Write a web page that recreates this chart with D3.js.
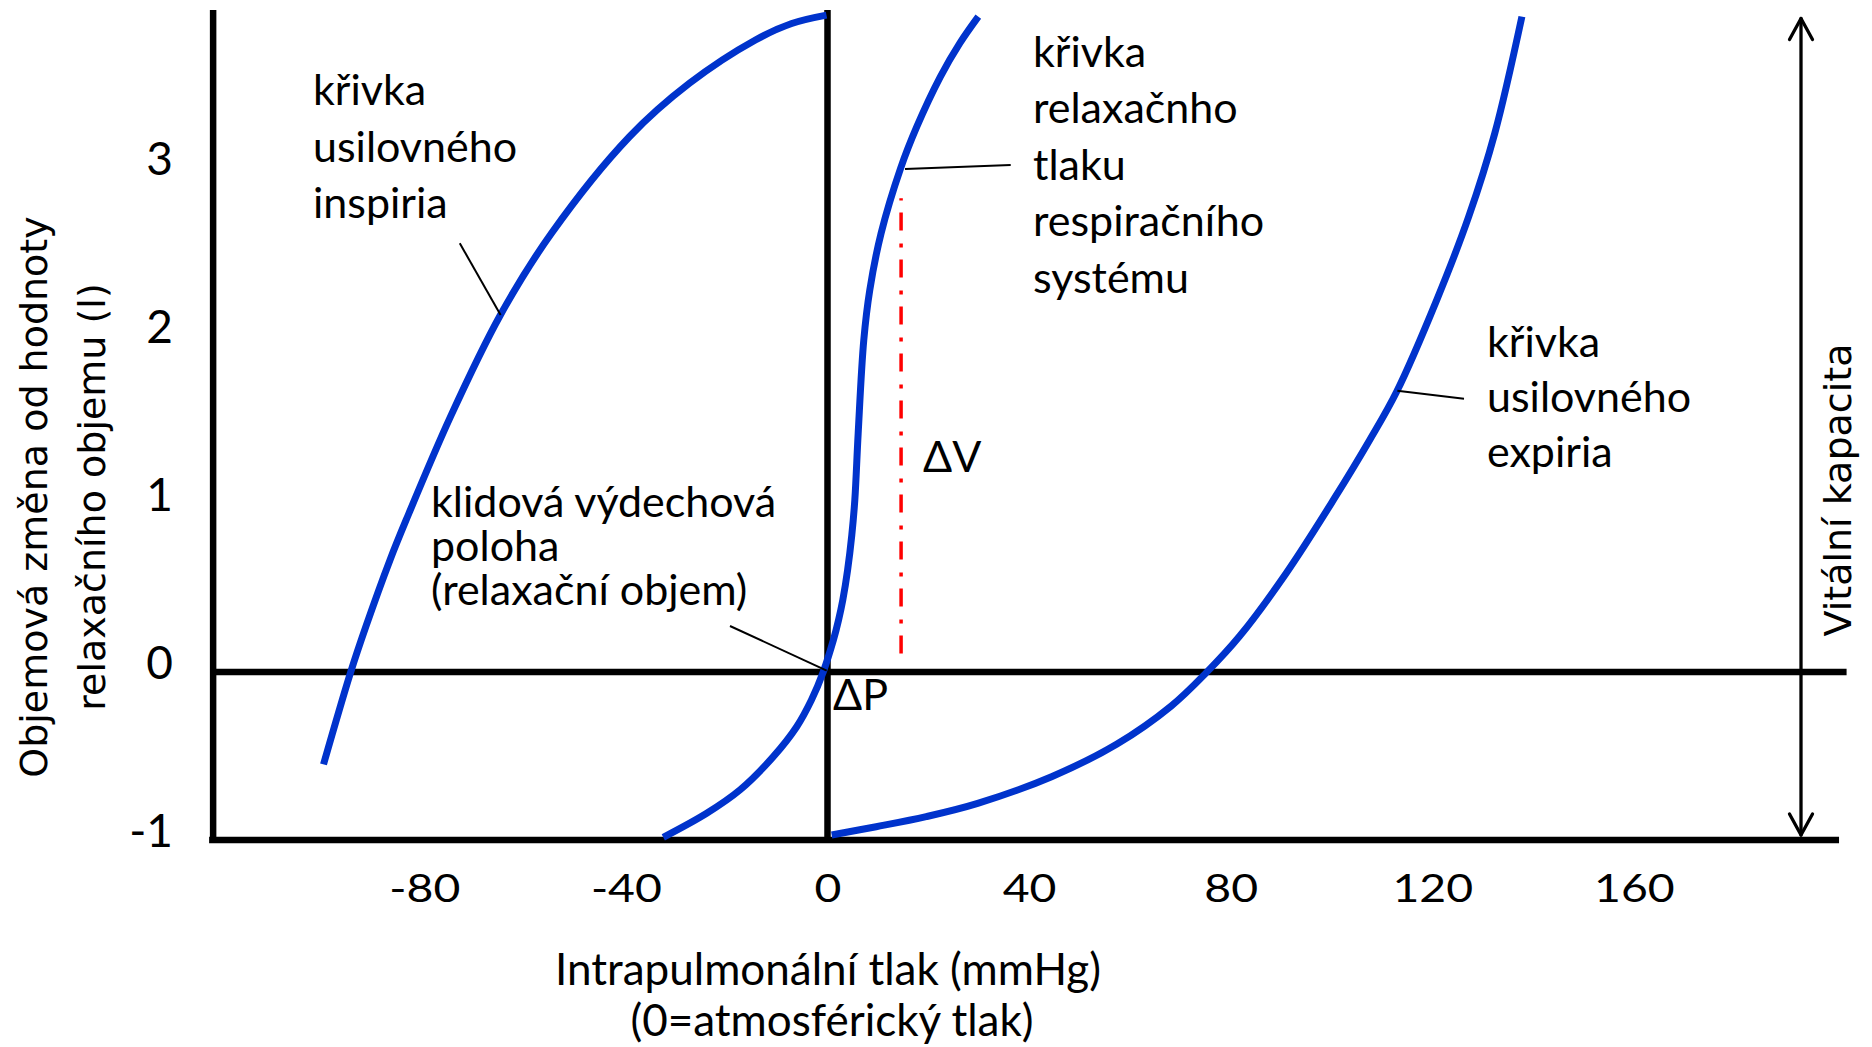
<!DOCTYPE html>
<html><head><meta charset="utf-8">
<script src="https://cdn.jsdelivr.net/npm/d3@7"></script>
<style>html,body{margin:0;padding:0;background:#fff;} svg{display:block;}</style>
</head><body>
<svg id="chart" width="1872" height="1047"></svg>
<script>
// ---------- data ----------
const xTickValues = [-80, -40, 0, 40, 80, 120, 160];
const yTickValues = [-1, 0, 1, 2, 3];

// křivka usilovného inspiria (pressure mmHg, volume l)
const inspPressure = [-100.0, -94.6, -91.6, -86.8, -83.6, -74.8, -64.9, -54.8, -39.3, -27.4, -14.3, -7.1, -0.2];
const inspVolume   = [-0.55, 0.0, 0.27, 0.667, 0.905, 1.52, 2.125, 2.61, 3.186, 3.504, 3.762, 3.86, 3.91];

// křivka relaxačního tlaku respiračního systému
const relaxPressure = [-32.58, -23.97, -17.36, -10.75, -6.11, -3.19, -0.85, 1.17, 2.20, 3.04, 3.99, 4.82, 5.42, 6.09, 7.20, 8.39, 10.63, 14.50, 17.72, 22.38, 26.23, 29.92];
const relaxVolume   = [-0.984, -0.841, -0.702, -0.504, -0.326, -0.167, 0.0, 0.19, 0.31, 0.429, 0.607, 0.815, 1.024, 1.423, 1.976, 2.274, 2.611, 2.998, 3.246, 3.543, 3.742, 3.901];

// křivka usilovného expiria
const expPressure = [0.83, 9.66, 19.58, 29.80, 44.46, 57.36, 68.21, 75.16, 81.79, 91.01, 100.38, 107.58, 112.92, 120.87, 127.22, 132.40, 137.78];
const expVolume   = [-0.970, -0.921, -0.861, -0.782, -0.623, -0.430, -0.202, -0.004, 0.214, 0.588, 1.024, 1.381, 1.668, 2.214, 2.710, 3.207, 3.901];

// ΔV marker (pressure, volume from, volume to)
const deltaVPressure = 14.6;
const deltaVRange = [0.11, 2.82];
// vital capacity arrow span (volume)
const vitalRange = [-1, 3.89];

// label texts
const inspLabel  = ["křivka", "usilovného", "inspiria"];
const relaxLabel = ["křivka", "relaxačnho", "tlaku", "respiračního", "systému"];
const expLabel   = ["křivka", "usilovného", "expiria"];
const restLabel  = ["klidová výdechová", "poloha", "(relaxační objem)"];
const xTitle = ["Intrapulmonální tlak (mmHg)", "(0=atmosférický tlak)"];
const yTitle = ["Objemová změna od hodnoty", "relaxačního objemu (l)"];
const vcTitle = "Vitální kapacita";

// ---------- layout ----------
const svg = d3.select("#chart");
const x = d3.scaleLinear().domain([-80, 160]).range([827.5 - 80 * 5.04, 827.5 + 160 * 5.04]);
const y = d3.scaleLinear().domain([-1, 3]).range([840, 168]);
const xLeft = -121.9, xRightZero = 202.2, xRightBottom = 200.7, yTop = 3.94;
const FONT = "Lato, 'Open Sans', sans-serif";
const BLUE = "#0033cc";
const fmt = d => String(d);

// frame
const frame = svg.append("g").attr("stroke", "#000").attr("stroke-width", 6.5).attr("fill", "none");
frame.append("line").attr("x1", x(xLeft)).attr("x2", x(xLeft)).attr("y1", y(yTop)).attr("y2", y(-1) + 3);
frame.append("line").attr("x1", x(0)).attr("x2", x(0)).attr("y1", y(yTop)).attr("y2", y(-1));
frame.append("line").attr("x1", x(xLeft)).attr("x2", x(xRightZero)).attr("y1", y(0)).attr("y2", y(0));
frame.append("line").attr("x1", x(xLeft) - 4).attr("x2", x(xRightBottom)).attr("y1", y(-1)).attr("y2", y(-1));

// axes (labels only)
const xAxis = svg.append("g").attr("transform", `translate(0,${y(-1)})`)
  .call(d3.axisBottom(x).tickValues(xTickValues).tickSize(0).tickFormat(fmt));
xAxis.select(".domain").remove();
xAxis.selectAll("text").attr("y", 62).attr("dy", 0)
  .attr("font-family", FONT).attr("font-size", 38).attr("fill", "#000")
  .attr("transform", "scale(1.22,1)");

const yAxis = svg.append("g").attr("transform", `translate(173,0)`)
  .call(d3.axisLeft(y).tickValues(yTickValues).tickSize(0).tickPadding(0).tickFormat(fmt));
yAxis.select(".domain").remove();
yAxis.selectAll("text").attr("x", 0).attr("dy", 0).attr("y", 6.5)
  .attr("font-family", FONT).attr("font-size", 46).attr("fill", "#000");

// curves
const line = d3.line().x(d => x(d[0])).y(d => y(d[1])).curve(d3.curveCatmullRom.alpha(0.5));
const curves = [
  d3.zip(inspPressure, inspVolume),
  d3.zip(relaxPressure, relaxVolume),
  d3.zip(expPressure, expVolume)
];
svg.append("g").selectAll("path").data(curves).join("path")
  .attr("d", line).attr("fill", "none").attr("stroke", BLUE).attr("stroke-width", 7);

// ΔV dash-dot line
svg.append("line")
  .attr("x1", x(deltaVPressure)).attr("x2", x(deltaVPressure))
  .attr("y1", y(deltaVRange[0])).attr("y2", y(deltaVRange[1]))
  .attr("stroke", "#ff0000").attr("stroke-width", 3.5)
  .attr("stroke-dasharray", "18,12,4,13");

// callout lines (data coords)
const callouts = [
  [[-72.96, 2.552], [-64.86, 2.125]],
  [[15.38, 2.994], [36.35, 3.018]],
  [[113.06, 1.674], [126.29, 1.627]],
  [[-19.35, 0.274], [-0.16, 0.008]]
];
svg.append("g").selectAll("line").data(callouts).join("line")
  .attr("x1", d => x(d[0][0])).attr("y1", d => y(d[0][1]))
  .attr("x2", d => x(d[1][0])).attr("y2", d => y(d[1][1]))
  .attr("stroke", "#000").attr("stroke-width", 2);

// vital capacity arrow
const ax = 1801;
const vc = svg.append("g").attr("stroke", "#000").attr("stroke-width", 3.3).attr("fill", "none")
  .attr("stroke-linecap", "round").attr("stroke-linejoin", "round");
vc.append("line").attr("x1", ax).attr("x2", ax).attr("y1", y(vitalRange[1])).attr("y2", y(vitalRange[0]) - 5);
vc.append("polyline").attr("points", `${ax - 11.5},${y(vitalRange[1]) + 21} ${ax},${y(vitalRange[1])} ${ax + 11.5},${y(vitalRange[1]) + 21}`);
vc.append("polyline").attr("points", `${ax - 11.5},${y(vitalRange[0]) - 26} ${ax},${y(vitalRange[0]) - 5} ${ax + 11.5},${y(vitalRange[0]) - 26}`);

// text blocks
function block(lines, px, py, lh, size) {
  const t = svg.append("text").attr("font-family", FONT).attr("font-size", size).attr("fill", "#000");
  lines.forEach((s, i) => t.append("tspan").attr("x", x(px)).attr("y", y(py) + i * lh).text(s));
  return t;
}
block(inspLabel, -102.08, 3.375, 56.5, 43);
block(relaxLabel, 40.77, 3.603, 56.6, 43);
block(expLabel, 130.85, 1.877, 55, 43);
block(restLabel, -78.67, 0.923, 43.8, 43);
block(["ΔV"], 18.95, 1.190, 0, 43);
block(["ΔP"], 1.09, -0.226, 0, 43);

// x title
const xt = svg.append("text").attr("font-family", FONT).attr("font-size", 44).attr("fill", "#000").attr("text-anchor", "middle");
xt.append("tspan").attr("x", 828).attr("y", 985).text(xTitle[0]);
xt.append("tspan").attr("x", 832).attr("y", 1036).text(xTitle[1]);

// y title (rotated)
const yt = svg.append("g").attr("font-family", "'DejaVu Sans', Verdana, sans-serif").attr("font-size", 38).attr("fill", "#000").attr("text-anchor", "middle");
yt.append("text").attr("transform", "translate(47,497) rotate(-90)").text(yTitle[0]);
yt.append("text").attr("transform", "translate(105,497) rotate(-90)").text(yTitle[1]);
yt.append("text").attr("transform", "translate(1851,490) rotate(-90)").text(vcTitle);
</script>
</body></html>
